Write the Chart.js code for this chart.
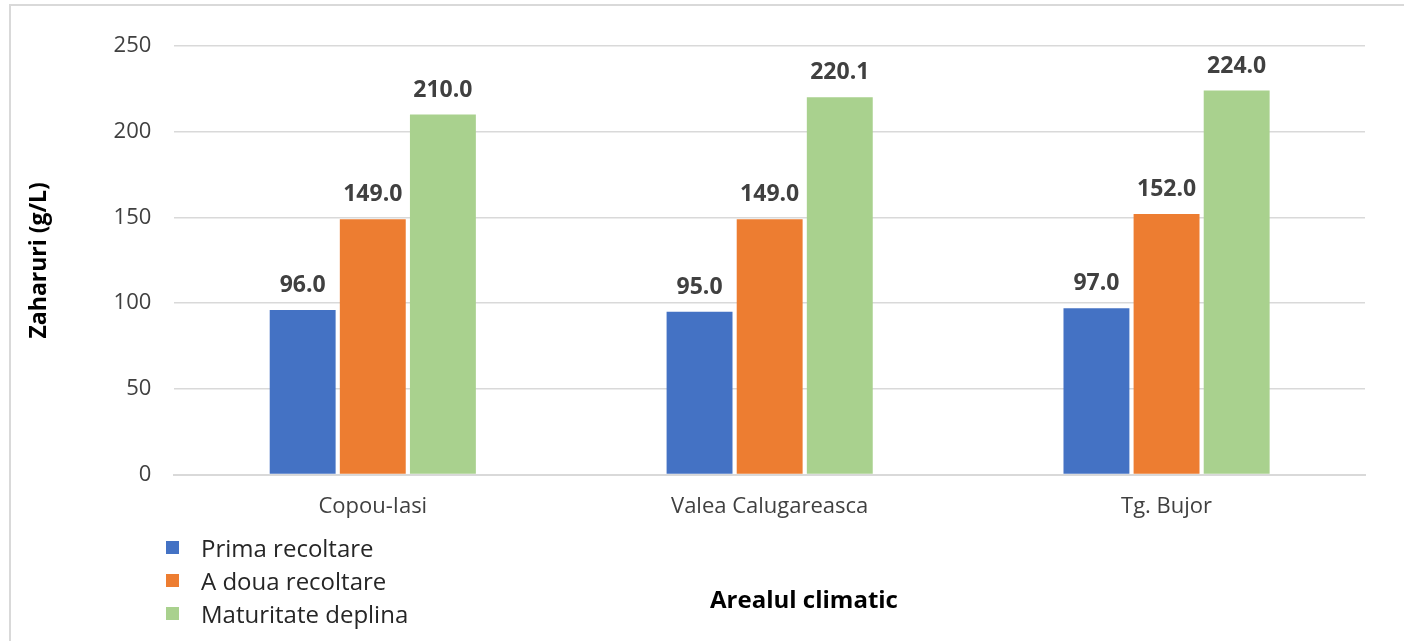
<!DOCTYPE html>
<html lang="en">
<head>
    <meta charset="UTF-8">
    <title>Zaharuri</title>
    <script src="https://cdn.jsdelivr.net/npm/chart.js"></script>
    <style>
        body {
            margin: 0;
            background: #ffffff;
            font-family: 'Open Sans', sans-serif;
        }
        #wrap {
            position: relative;
            width: 1404px;
            height: 641px;
            overflow: hidden;
        }
        #frame {
            position: absolute;
            left: 9px;
            top: 4px;
            width: 1500px;
            height: 700px;
            border-left: 2px solid #d9d9d9;
            border-top: 2px solid #d9d9d9;
        }
        #chart {
            position: absolute;
            left: 0;
            top: 0;
        }
        #legend {
            position: absolute;
            left: 166px;
            top: 531px;
            font-size: 24px;
            color: #262626;
        }
        .item {
            height: 33px;
            display: flex;
            align-items: center;
        }
        .box {
            width: 13px;
            height: 13px;
            margin-right: 22px;
        }
        #xtitle {
            position: absolute;
            left: 804px;
            top: 582px;
            transform: translateX(-50%);
            font-size: 24px;
            font-weight: bold;
            color: #000;
            white-space: nowrap;
        }
    </style>
</head>
<body>
    <div id="wrap">
        <div id="frame"></div>
        <canvas id="chart" width="1404" height="641"></canvas>
        <div id="legend"></div>
        <div id="xtitle">Arealul climatic</div>
    </div>

    <script>
        // Chart data
        const categories = ['Copou-Iasi', 'Valea Calugareasca', 'Tg. Bujor'];
        const seriesNames = ['Prima recoltare', 'A doua recoltare', 'Maturitate deplina'];
        const primaRecoltare = [96.0, 95.0, 97.0];
        const aDouaRecoltare = [149.0, 149.0, 152.0];
        const maturitateDeplina = [210.0, 220.1, 224.0];
        const seriesColors = ['#4472C4', '#ED7D31', '#A9D18E'];

        const allSeries = [primaRecoltare, aDouaRecoltare, maturitateDeplina];

        // Draws the value above each bar
        const valueLabels = {
            id: 'valueLabels',
            afterDatasetsDraw(chart) {
                const ctx = chart.ctx;
                ctx.save();
                ctx.font = 'bold 23px "Open Sans", sans-serif';
                ctx.fillStyle = '#404040';
                ctx.textAlign = 'center';
                ctx.textBaseline = 'alphabetic';
                chart.data.datasets.forEach((ds, i) => {
                    const meta = chart.getDatasetMeta(i);
                    meta.data.forEach((bar, j) => {
                        ctx.fillText(ds.data[j].toFixed(1), bar.x, bar.y - 18);
                    });
                });
                ctx.restore();
            }
        };

        new Chart(document.getElementById('chart'), {
            type: 'bar',
            data: {
                labels: categories,
                datasets: allSeries.map((values, i) => ({
                    label: seriesNames[i],
                    data: values,
                    backgroundColor: seriesColors[i],
                    categoryPercentage: 0.53,
                    barPercentage: 0.94
                }))
            },
            options: {
                responsive: false,
                animation: false,
                layout: {
                    padding: { left: 26, right: 39, top: 46, bottom: 110 }
                },
                plugins: {
                    legend: { display: false },
                    tooltip: { enabled: false }
                },
                scales: {
                    x: {
                        grid: { display: false },
                        border: { color: '#d9d9d9', width: 2 },
                        ticks: {
                            color: '#404040',
                            font: { family: 'Open Sans', size: 22 },
                            padding: 11
                        }
                    },
                    y: {
                        min: 0,
                        max: 250,
                        grid: { color: '#d9d9d9', lineWidth: 1.5, drawTicks: false },
                        border: { display: false },
                        ticks: {
                            stepSize: 50,
                            color: '#404040',
                            font: { family: 'Open Sans', size: 22 },
                            padding: 23
                        },
                        title: {
                            display: true,
                            text: 'Zaharuri (g/L)',
                            color: '#000',
                            font: { family: 'Open Sans', size: 23, weight: 'bold' },
                            padding: { top: 0, bottom: 37 }
                        }
                    }
                }
            },
            plugins: [valueLabels]
        });

        // Vertical legend built from the series
        const legend = document.getElementById('legend');
        seriesNames.forEach((name, i) => {
            const row = document.createElement('div');
            row.className = 'item';
            row.innerHTML = `<span class="box" style="background:${seriesColors[i]}"></span>${name}`;
            legend.appendChild(row);
        });
    </script>
</body>
</html>
